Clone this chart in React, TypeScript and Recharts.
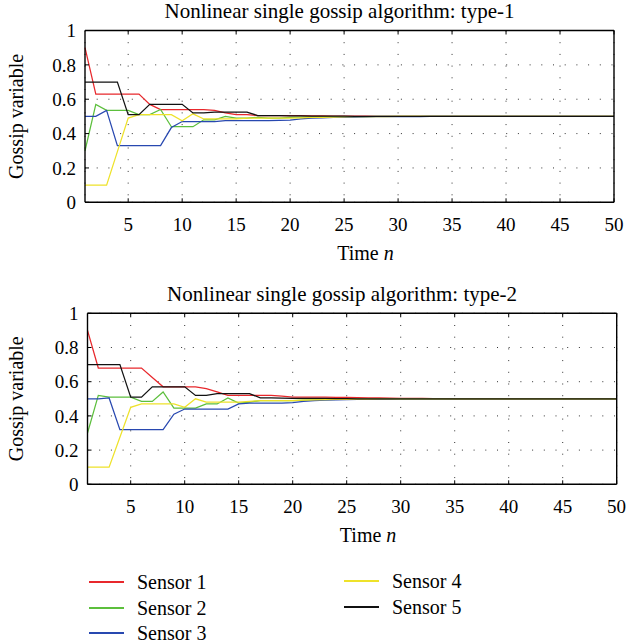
import { CartesianGrid, Line, LineChart, XAxis, YAxis } from "recharts";

const steps = [
  1, 2, 3, 4, 5, 6, 7, 8, 9, 10, 11, 12, 13, 14, 15, 16, 17, 18, 19, 20, 21, 22, 23, 24, 25,
  26, 27, 28, 29, 30, 31, 32, 33, 34, 35, 36, 37, 38, 39, 40, 41, 42, 43, 44, 45, 46, 47, 48, 49, 50,
];
const xTicks = [5, 10, 15, 20, 25, 30, 35, 40, 45, 50];
const yTicks = [0, 0.2, 0.4, 0.6, 0.8, 1];
const sensorNames = ["Sensor 1", "Sensor 2", "Sensor 3", "Sensor 4", "Sensor 5"];

// type-1
const t1Sensor1 = [
  0.9, 0.63, 0.63, 0.63, 0.63, 0.63, 0.57, 0.54, 0.54, 0.54,
  0.54, 0.54, 0.535, 0.52, 0.51, 0.51, 0.505, 0.505, 0.505, 0.505,
  0.504, 0.503, 0.503, 0.502, 0.502, 0.501, 0.501, 0.5, 0.5, 0.5,
  0.5, 0.5, 0.5, 0.5, 0.5, 0.5, 0.5, 0.5, 0.5, 0.5,
  0.5, 0.5, 0.5, 0.5, 0.5, 0.5, 0.5, 0.5, 0.5, 0.5,
];
const t1Sensor2 = [
  0.3, 0.57, 0.535, 0.535, 0.535, 0.51, 0.51, 0.54, 0.44, 0.44,
  0.44, 0.48, 0.48, 0.5, 0.49, 0.49, 0.495, 0.49, 0.49, 0.495,
  0.496, 0.497, 0.497, 0.498, 0.498, 0.499, 0.499, 0.5, 0.5, 0.5,
  0.5, 0.5, 0.5, 0.5, 0.5, 0.5, 0.5, 0.5, 0.5, 0.5,
  0.5, 0.5, 0.5, 0.5, 0.5, 0.5, 0.5, 0.5, 0.5, 0.5,
];
const t1Sensor3 = [
  0.5, 0.5, 0.535, 0.33, 0.33, 0.33, 0.33, 0.33, 0.435, 0.47,
  0.47, 0.47, 0.47, 0.475, 0.475, 0.475, 0.475, 0.475, 0.477, 0.478,
  0.485, 0.49, 0.492, 0.494, 0.495, 0.496, 0.497, 0.498, 0.498, 0.499,
  0.499, 0.499, 0.5, 0.5, 0.5, 0.5, 0.5, 0.5, 0.5, 0.5,
  0.5, 0.5, 0.5, 0.5, 0.5, 0.5, 0.5, 0.5, 0.5, 0.5,
];
const t1Sensor4 = [
  0.1, 0.1, 0.1, 0.295, 0.49, 0.51, 0.51, 0.51, 0.51, 0.475,
  0.515, 0.485, 0.485, 0.485, 0.485, 0.49, 0.49, 0.49, 0.49, 0.49,
  0.492, 0.494, 0.495, 0.496, 0.497, 0.498, 0.498, 0.499, 0.499, 0.5,
  0.5, 0.5, 0.5, 0.5, 0.5, 0.5, 0.5, 0.5, 0.5, 0.5,
  0.5, 0.5, 0.5, 0.5, 0.5, 0.5, 0.5, 0.5, 0.5, 0.5,
];
const t1Sensor5 = [
  0.7, 0.7, 0.7, 0.7, 0.51, 0.51, 0.57, 0.57, 0.57, 0.57,
  0.52, 0.52, 0.525, 0.525, 0.525, 0.525, 0.505, 0.505, 0.504, 0.503,
  0.503, 0.502, 0.502, 0.501, 0.501, 0.5, 0.5, 0.5, 0.5, 0.5,
  0.5, 0.5, 0.5, 0.5, 0.5, 0.5, 0.5, 0.5, 0.5, 0.5,
  0.5, 0.5, 0.5, 0.5, 0.5, 0.5, 0.5, 0.5, 0.5, 0.5,
];

// type-2
const t2Sensor1 = [
  0.9, 0.68, 0.68, 0.68, 0.68, 0.68, 0.625, 0.57, 0.57, 0.57,
  0.57, 0.56, 0.54, 0.52, 0.52, 0.52, 0.52, 0.52, 0.515, 0.51,
  0.51, 0.51, 0.51, 0.509, 0.508, 0.507, 0.506, 0.505, 0.504, 0.503,
  0.502, 0.502, 0.501, 0.501, 0.5, 0.5, 0.5, 0.5, 0.5, 0.5,
  0.5, 0.5, 0.5, 0.5, 0.5, 0.5, 0.5, 0.5, 0.5, 0.5,
];
const t2Sensor2 = [
  0.3, 0.52, 0.51, 0.51, 0.51, 0.485, 0.485, 0.54, 0.445, 0.445,
  0.445, 0.47, 0.47, 0.505, 0.475, 0.48, 0.49, 0.49, 0.49, 0.49,
  0.492, 0.494, 0.495, 0.496, 0.497, 0.498, 0.498, 0.499, 0.499, 0.5,
  0.5, 0.5, 0.5, 0.5, 0.5, 0.5, 0.5, 0.5, 0.5, 0.5,
  0.5, 0.5, 0.5, 0.5, 0.5, 0.5, 0.5, 0.5, 0.5, 0.5,
];
const t2Sensor3 = [
  0.5, 0.5, 0.505, 0.32, 0.32, 0.32, 0.32, 0.32, 0.41, 0.44,
  0.44, 0.44, 0.44, 0.44, 0.47, 0.475, 0.475, 0.475, 0.475, 0.477,
  0.485, 0.49, 0.492, 0.494, 0.495, 0.496, 0.497, 0.498, 0.498, 0.499,
  0.499, 0.499, 0.5, 0.5, 0.5, 0.5, 0.5, 0.5, 0.5, 0.5,
  0.5, 0.5, 0.5, 0.5, 0.5, 0.5, 0.5, 0.5, 0.5, 0.5,
];
const t2Sensor4 = [
  0.1, 0.1, 0.1, 0.275, 0.45, 0.47, 0.47, 0.47, 0.47, 0.45,
  0.5, 0.48, 0.48, 0.48, 0.48, 0.485, 0.49, 0.49, 0.49, 0.49,
  0.492, 0.494, 0.495, 0.496, 0.497, 0.498, 0.498, 0.499, 0.499, 0.5,
  0.5, 0.5, 0.5, 0.5, 0.5, 0.5, 0.5, 0.5, 0.5, 0.5,
  0.5, 0.5, 0.5, 0.5, 0.5, 0.5, 0.5, 0.5, 0.5, 0.5,
];
const t2Sensor5 = [
  0.7, 0.7, 0.7, 0.7, 0.51, 0.51, 0.57, 0.57, 0.57, 0.57,
  0.52, 0.52, 0.53, 0.53, 0.53, 0.53, 0.505, 0.505, 0.504, 0.503,
  0.503, 0.502, 0.502, 0.501, 0.501, 0.5, 0.5, 0.5, 0.5, 0.5,
  0.5, 0.5, 0.5, 0.5, 0.5, 0.5, 0.5, 0.5, 0.5, 0.5,
  0.5, 0.5, 0.5, 0.5, 0.5, 0.5, 0.5, 0.5, 0.5, 0.5,
];

const COLORS = ["#e8282c", "#5cbf3c", "#2848b0", "#eee22a", "#111111"];
const FONT = "'Liberation Serif', 'Times New Roman', serif";
const axisStroke = { stroke: "#000", strokeWidth: 1.4 };
const tickStroke = { stroke: "#000", strokeWidth: 1 };
const tickText = { fill: "#000", fontSize: 19 };

type PanelProps = {
  title: string;
  series: number[][];
  top: number;
  marginTop: number;
  leftWidth: number;
  rightMargin: number;
};

function Panel({ title, series, top, marginTop, leftWidth, rightMargin }: PanelProps) {
  const data = steps.map((n, i) => {
    const row: Record<string, number> = { n };
    series.forEach((s, k) => {
      row[`s${k + 1}`] = s[i];
    });
    return row;
  });

  return (
    <div style={{ position: "absolute", left: 0, top, width: 626, height: 283 }}>
      <LineChart width={626} height={283} data={data} margin={{ top: marginTop, right: rightMargin, left: 0, bottom: 0 }}>
        <CartesianGrid stroke="#333" strokeDasharray="1 10.7" />
        <XAxis
          dataKey="n"
          type="number"
          domain={[1, 50]}
          ticks={xTicks}
          height={80.7}
          axisLine={axisStroke}
          tickLine={tickStroke}
          tickSize={-4}
          tickMargin={19}
          tick={tickText}
          label={{
            content: (p: any) => {
              const vb = p.viewBox;
              return (
                <text x={vb.x + vb.width / 2 + 16} y={vb.y + 57.7} textAnchor="middle" fontSize={20} fill="#000">
                  Time <tspan fontStyle="italic">n</tspan>
                </text>
              );
            },
          }}
        />
        <XAxis
          xAxisId="top"
          orientation="top"
          dataKey="n"
          type="number"
          domain={[1, 50]}
          ticks={xTicks}
          height={1}
          axisLine={axisStroke}
          tickLine={tickStroke}
          tickSize={-4}
          tickFormatter={() => ""}
          label={{
            content: (p: any) => {
              const vb = p.viewBox;
              return (
                <text x={vb.x + vb.width / 2 - 10} y={vb.y + vb.height - 12.5} textAnchor="middle" fontSize={21} fill="#000">
                  {title}
                </text>
              );
            },
          }}
        />
        <YAxis
          type="number"
          domain={[0, 1]}
          ticks={yTicks}
          width={leftWidth}
          axisLine={axisStroke}
          tickLine={tickStroke}
          tickSize={-4}
          tickMargin={13}
          tick={tickText}
          label={{
            content: (p: any) => {
              const vb = p.viewBox;
              const cx = 23.5;
              const cy = vb.y + vb.height / 2;
              return (
                <text x={cx} y={cy} transform={`rotate(-90 ${cx} ${cy})`} textAnchor="middle" fontSize={20} fill="#000">
                  Gossip variable
                </text>
              );
            },
          }}
        />
        <YAxis
          yAxisId="right"
          orientation="right"
          type="number"
          domain={[0, 1]}
          ticks={yTicks}
          width={1}
          axisLine={axisStroke}
          tickLine={tickStroke}
          tickSize={-4}
          tickFormatter={() => ""}
        />
        {series.map((_, k) => (
          <Line
            key={k}
            type="linear"
            dataKey={`s${k + 1}`}
            stroke={COLORS[k]}
            strokeWidth={1.25}
            dot={false}
            activeDot={false}
            isAnimationActive={false}
          />
        ))}
      </LineChart>
    </div>
  );
}

function LegendRow({ k, x, y }: { k: number; x: number; y: number }) {
  return (
    <div style={{ position: "absolute", left: x, top: y - 9, height: 18, display: "flex", alignItems: "center" }}>
      <span style={{ display: "inline-block", width: 35, height: 1.6, background: COLORS[k], marginRight: 13 }} />
      <span style={{ fontSize: 20, lineHeight: "18px", whiteSpace: "nowrap" }}>{sensorNames[k]}</span>
    </div>
  );
}

export default function App() {
  return (
    <div style={{ position: "absolute", left: 0, top: 0, width: 626, height: 644, background: "#fff", fontFamily: FONT, color: "#000", overflow: "hidden" }}>
      <Panel
        title="Nonlinear single gossip algorithm: type-1"
        series={[t1Sensor1, t1Sensor2, t1Sensor3, t1Sensor4, t1Sensor5]}
        top={0}
        marginTop={29.5}
        leftWidth={85}
        rightMargin={11}
      />
      <Panel
        title="Nonlinear single gossip algorithm: type-2"
        series={[t2Sensor1, t2Sensor2, t2Sensor3, t2Sensor4, t2Sensor5]}
        top={282}
        marginTop={30.3}
        leftWidth={87.5}
        rightMargin={8.3}
      />
      <LegendRow k={0} x={89} y={582} />
      <LegendRow k={1} x={89} y={608} />
      <LegendRow k={2} x={89} y={633} />
      <LegendRow k={3} x={344} y={581} />
      <LegendRow k={4} x={344} y={607} />
    </div>
  );
}
